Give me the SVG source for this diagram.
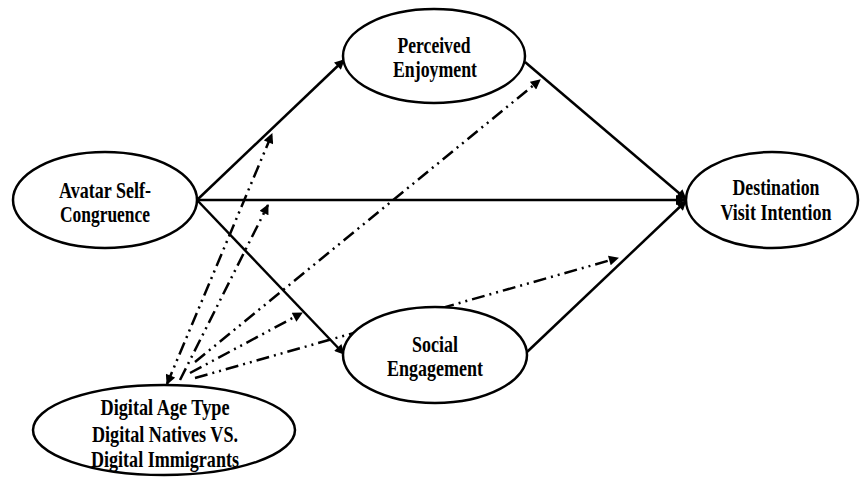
<svg xmlns="http://www.w3.org/2000/svg" width="861" height="477" viewBox="0 0 861 477">
<style>
.node ellipse{fill:#fff;stroke:#000;stroke-width:2.5}
.node text{font-family:"Liberation Serif","Times New Roman",serif;font-weight:bold;font-size:23px;fill:#000;text-anchor:middle}
.solid{stroke:#000;stroke-width:2.5;fill:none}
.mod{stroke:#000;stroke-width:2.5;fill:none;stroke-dasharray:13 5 2 5 2 5}
</style>
<defs>
<marker id="ah" viewBox="0 0 10 10" refX="9" refY="5" markerWidth="11" markerHeight="10" markerUnits="userSpaceOnUse" orient="auto-start-reverse">
<path d="M0,0 L10,5 L0,10 z" fill="#000"/>
</marker>
</defs>
<g id="connectors">
<line class="solid" x1="197" y1="200" x2="344" y2="60" marker-end="url(#ah)"/>
<line class="solid" x1="197" y1="200" x2="685" y2="200" marker-end="url(#ah)"/>
<line class="solid" x1="197" y1="200" x2="344" y2="354" marker-end="url(#ah)"/>
<line class="solid" x1="525" y1="62" x2="686" y2="199" marker-end="url(#ah)"/>
<line class="solid" x1="527" y1="352" x2="686" y2="201" marker-end="url(#ah)"/>
<line class="mod" x1="167" y1="384" x2="272" y2="134" marker-start="url(#ah)" marker-end="url(#ah)"/>
<line class="mod" x1="180" y1="380" x2="268" y2="205" marker-end="url(#ah)"/>
<line class="mod" x1="190" y1="373" x2="302" y2="313" marker-end="url(#ah)"/>
<line class="mod" x1="195" y1="362" x2="540" y2="80" marker-end="url(#ah)"/>
<line class="mod" x1="195" y1="378" x2="618" y2="258" marker-end="url(#ah)"/>
</g>
<g id="avatar" class="node">
<ellipse cx="105" cy="200" rx="92" ry="48"/>
<text x="105" y="198" textLength="92" lengthAdjust="spacingAndGlyphs">Avatar Self-</text>
<text x="105" y="222" textLength="90" lengthAdjust="spacingAndGlyphs">Congruence</text>
</g>
<g id="enjoyment" class="node">
<ellipse cx="434" cy="56" rx="91" ry="47"/>
<text x="434" y="53" textLength="73" lengthAdjust="spacingAndGlyphs">Perceived</text>
<text x="435" y="77" textLength="84" lengthAdjust="spacingAndGlyphs">Enjoyment</text>
</g>
<g id="social" class="node">
<ellipse cx="435" cy="355" rx="92" ry="48"/>
<text x="435" y="352" textLength="46" lengthAdjust="spacingAndGlyphs">Social</text>
<text x="435" y="376" textLength="96" lengthAdjust="spacingAndGlyphs">Engagement</text>
</g>
<g id="destination" class="node">
<ellipse cx="772" cy="200" rx="86" ry="48"/>
<text x="776" y="195" textLength="87" lengthAdjust="spacingAndGlyphs">Destination</text>
<text x="776" y="220" textLength="111" lengthAdjust="spacingAndGlyphs">Visit Intention</text>
</g>
<g id="digital" class="node">
<ellipse cx="164" cy="430" rx="131" ry="45"/>
<text x="165" y="415" textLength="129" lengthAdjust="spacingAndGlyphs">Digital Age Type</text>
<text x="165" y="442" textLength="146" lengthAdjust="spacingAndGlyphs">Digital Natives VS.</text>
<text x="165" y="467" textLength="148" lengthAdjust="spacingAndGlyphs">Digital Immigrants</text>
</g>
</svg>
